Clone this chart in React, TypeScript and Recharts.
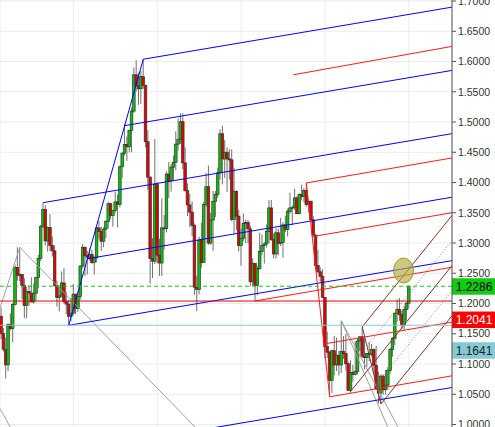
import React from 'react'
import {
  ComposedChart,
  Bar,
  XAxis,
  YAxis,
  CartesianGrid,
  ReferenceLine,
  ReferenceDot
} from 'recharts'

// EUR/USD monthly candles [open, high, low, close], Jun 2003 .. Jan 2018
const y2003 = [
  [1.179, 1.1933, 1.1411, 1.1505], [1.1505, 1.1595, 1.1205, 1.1245], [1.1245, 1.144, 1.0761, 1.0986],
  [1.0986, 1.1675, 1.088, 1.165], [1.165, 1.184, 1.156, 1.1587], [1.1587, 1.2007, 1.136, 1.1985],
  [1.1985, 1.2645, 1.197, 1.2597]
]
const y2004 = [
  [1.2597, 1.2929, 1.2377, 1.247], [1.247, 1.293, 1.2368, 1.2479], [1.2479, 1.2487, 1.207, 1.2296],
  [1.2296, 1.242, 1.1761, 1.197], [1.197, 1.228, 1.1757, 1.22], [1.22, 1.23, 1.196, 1.2173],
  [1.2173, 1.2433, 1.202, 1.2026], [1.2026, 1.233, 1.2, 1.217], [1.217, 1.244, 1.205, 1.243],
  [1.243, 1.2805, 1.2255, 1.2747], [1.2747, 1.33, 1.27, 1.3276], [1.3276, 1.3667, 1.3245, 1.3555]
]
const y2005 = [
  [1.3555, 1.3625, 1.2955, 1.3035], [1.3035, 1.3272, 1.286, 1.3255], [1.3255, 1.348, 1.287, 1.296],
  [1.296, 1.311, 1.2775, 1.287], [1.287, 1.296, 1.228, 1.23], [1.23, 1.238, 1.195, 1.21],
  [1.21, 1.228, 1.187, 1.2125], [1.2125, 1.253, 1.21, 1.234], [1.234, 1.2585, 1.2, 1.203],
  [1.203, 1.219, 1.1825, 1.199], [1.199, 1.206, 1.164, 1.179], [1.179, 1.209, 1.1705, 1.184]
]
const y2006 = [
  [1.184, 1.2325, 1.18, 1.2155], [1.2155, 1.216, 1.1825, 1.192], [1.192, 1.221, 1.186, 1.2115],
  [1.2115, 1.263, 1.2065, 1.262], [1.262, 1.298, 1.258, 1.2925], [1.2925, 1.295, 1.2455, 1.279],
  [1.279, 1.287, 1.248, 1.2765], [1.2765, 1.291, 1.271, 1.281], [1.281, 1.289, 1.265, 1.268],
  [1.268, 1.278, 1.248, 1.2755], [1.2755, 1.328, 1.268, 1.325], [1.325, 1.3365, 1.306, 1.319]
]
const y2007 = [
  [1.319, 1.327, 1.2865, 1.303], [1.303, 1.326, 1.293, 1.323], [1.323, 1.3375, 1.308, 1.3355],
  [1.3355, 1.368, 1.324, 1.365], [1.365, 1.3665, 1.339, 1.3455], [1.3455, 1.3545, 1.327, 1.354],
  [1.354, 1.385, 1.35, 1.368], [1.368, 1.38, 1.326, 1.364], [1.364, 1.428, 1.359, 1.426],
  [1.426, 1.45, 1.4075, 1.4485], [1.4485, 1.4965, 1.4445, 1.463], [1.463, 1.476, 1.436, 1.459]
]
const y2008 = [
  [1.459, 1.4875, 1.45, 1.486], [1.486, 1.524, 1.45, 1.518], [1.518, 1.59, 1.515, 1.578],
  [1.578, 1.602, 1.55, 1.56], [1.56, 1.5815, 1.5285, 1.555], [1.555, 1.5845, 1.53, 1.575],
  [1.575, 1.6038, 1.555, 1.5605], [1.5605, 1.562, 1.458, 1.4675], [1.4675, 1.4865, 1.388, 1.409],
  [1.409, 1.41, 1.233, 1.2745], [1.2745, 1.308, 1.242, 1.27], [1.27, 1.472, 1.265, 1.397]
]
const y2009 = [
  [1.397, 1.4, 1.2665, 1.28], [1.28, 1.307, 1.2455, 1.267], [1.267, 1.374, 1.2455, 1.325],
  [1.325, 1.3465, 1.289, 1.324], [1.324, 1.4185, 1.3175, 1.414], [1.414, 1.434, 1.3745, 1.403],
  [1.403, 1.4305, 1.385, 1.4255], [1.4255, 1.4445, 1.4045, 1.4335], [1.4335, 1.4845, 1.4205, 1.4635],
  [1.4635, 1.506, 1.453, 1.4715], [1.4715, 1.5145, 1.464, 1.5005], [1.5005, 1.5145, 1.422, 1.4325]
]
const y2010 = [
  [1.4325, 1.458, 1.385, 1.3865], [1.3865, 1.3985, 1.3445, 1.363], [1.363, 1.3815, 1.3265, 1.351],
  [1.351, 1.369, 1.3115, 1.329], [1.329, 1.3325, 1.2145, 1.227], [1.227, 1.246, 1.1875, 1.223],
  [1.223, 1.3105, 1.215, 1.305], [1.305, 1.3335, 1.259, 1.268], [1.268, 1.368, 1.268, 1.3635],
  [1.3635, 1.416, 1.36, 1.393], [1.393, 1.428, 1.297, 1.3], [1.3, 1.35, 1.297, 1.338]
]
const y2011 = [
  [1.338, 1.386, 1.287, 1.369], [1.369, 1.386, 1.343, 1.3805], [1.3805, 1.425, 1.375, 1.416],
  [1.416, 1.488, 1.405, 1.4805], [1.4805, 1.494, 1.397, 1.439], [1.439, 1.47, 1.4075, 1.45],
  [1.45, 1.458, 1.384, 1.439], [1.439, 1.455, 1.405, 1.4375], [1.4375, 1.455, 1.336, 1.339],
  [1.339, 1.4245, 1.3145, 1.3855], [1.3855, 1.387, 1.321, 1.3445], [1.3445, 1.355, 1.286, 1.296]
]
const y2012 = [
  [1.296, 1.3235, 1.2625, 1.308], [1.308, 1.3485, 1.303, 1.3325], [1.3325, 1.3385, 1.3, 1.334],
  [1.334, 1.338, 1.3, 1.3235], [1.3235, 1.328, 1.2285, 1.236], [1.236, 1.2745, 1.229, 1.2665],
  [1.2665, 1.267, 1.2042, 1.23], [1.23, 1.2625, 1.2135, 1.2575], [1.2575, 1.317, 1.256, 1.286],
  [1.286, 1.314, 1.28, 1.296], [1.296, 1.302, 1.266, 1.2985], [1.2985, 1.331, 1.2925, 1.319]
]
const y2013 = [
  [1.319, 1.371, 1.2995, 1.358], [1.358, 1.371, 1.3035, 1.3055], [1.3055, 1.316, 1.2745, 1.282],
  [1.282, 1.3245, 1.2745, 1.317], [1.317, 1.324, 1.2795, 1.2995], [1.2995, 1.3415, 1.295, 1.301],
  [1.301, 1.3345, 1.2755, 1.33], [1.33, 1.345, 1.318, 1.3225], [1.3225, 1.357, 1.3105, 1.3525],
  [1.3525, 1.383, 1.3485, 1.358], [1.358, 1.362, 1.3295, 1.359], [1.359, 1.3895, 1.3545, 1.3745]
]
const y2014 = [
  [1.3745, 1.3775, 1.3475, 1.3485], [1.3485, 1.3825, 1.3475, 1.38], [1.38, 1.3965, 1.3705, 1.377],
  [1.377, 1.3905, 1.3675, 1.387], [1.387, 1.3993, 1.36, 1.3635], [1.3635, 1.37, 1.35, 1.369],
  [1.369, 1.37, 1.3365, 1.3385], [1.3385, 1.3445, 1.313, 1.313], [1.313, 1.315, 1.257, 1.263],
  [1.263, 1.2885, 1.25, 1.2525], [1.2525, 1.26, 1.236, 1.245], [1.245, 1.257, 1.2095, 1.21]
]
const y2015 = [
  [1.21, 1.2105, 1.1098, 1.129], [1.129, 1.1535, 1.1098, 1.1195], [1.1195, 1.1215, 1.0458, 1.073],
  [1.073, 1.124, 1.052, 1.122], [1.122, 1.1465, 1.0815, 1.0985], [1.0985, 1.1435, 1.0885, 1.1145],
  [1.1145, 1.1215, 1.081, 1.0985], [1.0985, 1.1714, 1.085, 1.121], [1.121, 1.146, 1.1085, 1.1175],
  [1.1175, 1.1495, 1.0895, 1.1005], [1.1005, 1.104, 1.056, 1.0565], [1.0565, 1.106, 1.0524, 1.086]
]
const y2016 = [
  [1.086, 1.0985, 1.071, 1.083], [1.083, 1.1375, 1.081, 1.0875], [1.0875, 1.142, 1.0825, 1.138],
  [1.138, 1.1465, 1.1215, 1.145], [1.145, 1.1616, 1.11, 1.113], [1.113, 1.1425, 1.091, 1.1105],
  [1.1105, 1.1185, 1.095, 1.1175], [1.1175, 1.1365, 1.1045, 1.1155], [1.1155, 1.133, 1.112, 1.124],
  [1.124, 1.126, 1.085, 1.098], [1.098, 1.13, 1.057, 1.059], [1.059, 1.0875, 1.035, 1.052]
]
const y2017 = [
  [1.052, 1.083, 1.034, 1.08], [1.08, 1.083, 1.0495, 1.0575], [1.0575, 1.0905, 1.0495, 1.065],
  [1.065, 1.095, 1.057, 1.0895], [1.0895, 1.127, 1.084, 1.124], [1.124, 1.1445, 1.112, 1.1425],
  [1.1425, 1.1845, 1.131, 1.184], [1.184, 1.207, 1.17, 1.1905], [1.1905, 1.209, 1.1715, 1.1815],
  [1.1815, 1.188, 1.1575, 1.1645], [1.1645, 1.196, 1.1555, 1.19], [1.19, 1.2025, 1.1715, 1.2005]
]
const y2018 = [[1.2005, 1.2296, 1.1915, 1.2286]]

const priceTicks = [1.0, 1.05, 1.1, 1.15, 1.2, 1.25, 1.3, 1.35, 1.4, 1.45, 1.5, 1.55, 1.6, 1.65, 1.7]
// januaries 2006, 2009, 2012, 2015, 2018 (month index from Jun 2003)
const yearTicks = [31, 67, 103, 139, 175]

// drawn lines: [fromMonth, fromPrice, toMonth, toPrice]
const blueLines = [
  [29, 1.164, 61, 1.6038],
  [61, 1.6038, 193.5, 1.6899],
  [53, 1.494, 193.5, 1.5853],
  [18, 1.3667, 193.5, 1.4808],
  [37, 1.274, 193.5, 1.3757],
  [29, 1.164, 193.5, 1.2709],
  [29, 0.9543, 193.5, 1.0612]
]
const redLines = [
  [131, 1.3993, 141, 1.0458],
  [125.3, 1.578, 193.5, 1.625],
  [131, 1.3993, 193.5, 1.4406],
  [133.5, 1.3105, 193.5, 1.3501],
  [109, 1.2042, 193.5, 1.26],
  [138.5, 1.1331, 193.5, 1.1694],
  [141, 1.0458, 193.5, 1.0805]
]
const brownLines = [
  [155, 1.1616, 163, 1.034],
  [155, 1.1616, 193.5, 1.3456],
  [150, 1.0548, 193.5, 1.2627],
  [163, 1.034, 193.5, 1.1798]
]
const brownDotted = [
  [157, 1.1297, 193.5, 1.3042],
  [161, 1.066, 193.5, 1.2213]
]
const grayLines = [
  [-0.5, 1.1926, 8, 1.2929],
  [8, 1.2929, 86, 0.985],
  [-0.5, 1.0266, 5, 0.988],
  [146, 1.1714, 166.5, 0.991],
  [146, 1.1714, 171, 0.991]
]

const lastPrice = 1.2286
const level2012 = 1.2041
const level2005 = 1.1641
const marked = { month: 172.7, price: 1.2545 }

const candles = [
  ...y2003, ...y2004, ...y2005, ...y2006, ...y2007, ...y2008, ...y2009, ...y2010,
  ...y2011, ...y2012, ...y2013, ...y2014, ...y2015, ...y2016, ...y2017, ...y2018
].map(([open, high, low, close], i) => ({ i, open, high, low, close, range: [low, high] }))

const Candle = (props: any) => {
  const { x, y, width, height, payload } = props
  if (x == null || y == null) return null
  const { open, high, low, close } = payload
  const top = Math.min(y, y + height)
  const h = Math.abs(height)
  const cx = x + width / 2
  const toY = (p: number) => top + ((high - p) / (high - low)) * h
  const bTop = toY(Math.max(open, close))
  const bBot = toY(Math.min(open, close))
  const up = close >= open
  return (
    <g>
      <line x1={cx} x2={cx} y1={top} y2={top + h} stroke="#707070" strokeWidth={1} />
      <rect
        x={cx - 1.3}
        y={bTop}
        width={2.6}
        height={Math.max(bBot - bTop, 1)}
        fill={up ? '#00c800' : '#e60000'}
        stroke="#333"
        strokeWidth={0.7}
      />
    </g>
  )
}

const PriceTag = (props: any) => {
  const { viewBox, text, fill, color, shift } = props
  const x = viewBox.x + viewBox.width
  const y = viewBox.y + shift
  return (
    <g>
      <rect x={x} y={y - 8} width={43} height={16.5} fill={fill} />
      <text x={x + 22} y={y} dy="0.36em" textAnchor="middle" fill={color} fontSize={12} fontFamily="Arial">
        {text}
      </text>
    </g>
  )
}

const segs = (lines: number[][], stroke: string, dash?: string) =>
  lines.map((l, k) => (
    <ReferenceLine
      key={stroke + k}
      segment={[{ x: l[0], y: l[1] }, { x: l[2], y: l[3] }]}
      stroke={stroke}
      strokeWidth={1}
      strokeDasharray={dash}
      ifOverflow="hidden"
    />
  ))

export default function App() {
  return (
    <div style={{ width: 495, height: 427 }}>
      <style>{'body{margin:0}'}</style>
      <ComposedChart width={495} height={427} data={candles} margin={{ top: 0, right: 0, bottom: 0, left: 0 }}>
        <CartesianGrid stroke="#ececec" />
        <XAxis type="number" dataKey="i" domain={[-0.5, 193.5]} ticks={yearTicks} allowDataOverflow hide />
        <YAxis
          orientation="right"
          type="number"
          domain={[0.9959, 1.7017]}
          ticks={priceTicks}
          interval={0}
          allowDataOverflow
          width={43}
          tickSize={4}
          tickMargin={2}
          stroke="#555"
          tick={{ fontSize: 10.5, fill: '#333', fontFamily: 'Arial' }}
          tickFormatter={(v: number) => v.toFixed(4)}
        />
        <Bar dataKey="range" barSize={3} shape={<Candle />} isAnimationActive={false} />
        {segs(grayLines, '#a0a0a0')}
        {segs(blueLines, '#0000ff')}
        {segs(redLines, '#ff1a1a')}
        {segs(brownLines, '#7f3626')}
        {segs(brownDotted, '#b0706a', '1 2')}
        <ReferenceLine
          y={level2005}
          stroke="#86cad6"
          label={<PriceTag text={level2005.toFixed(4)} fill="#86cad6" color="#222" shift={25} />}
        />
        <ReferenceLine
          y={level2012}
          stroke="#e00000"
          label={<PriceTag text={level2012.toFixed(4)} fill="#ff0000" color="#fff" shift={18.5} />}
        />
        <ReferenceLine
          y={lastPrice}
          stroke="#11cc11"
          strokeDasharray="4 3"
          label={<PriceTag text={lastPrice.toFixed(4)} fill="#11cc11" color="#000" shift={0} />}
        />
        <ReferenceDot
          x={marked.month}
          y={marked.price}
          shape={(p: any) => (
            <ellipse cx={p.cx} cy={p.cy} rx={10} ry={12.5} fill="#b4ac3c" fillOpacity={0.65} stroke="#a09a30" strokeWidth={1} />
          )}
        />
      </ComposedChart>
    </div>
  )
}
